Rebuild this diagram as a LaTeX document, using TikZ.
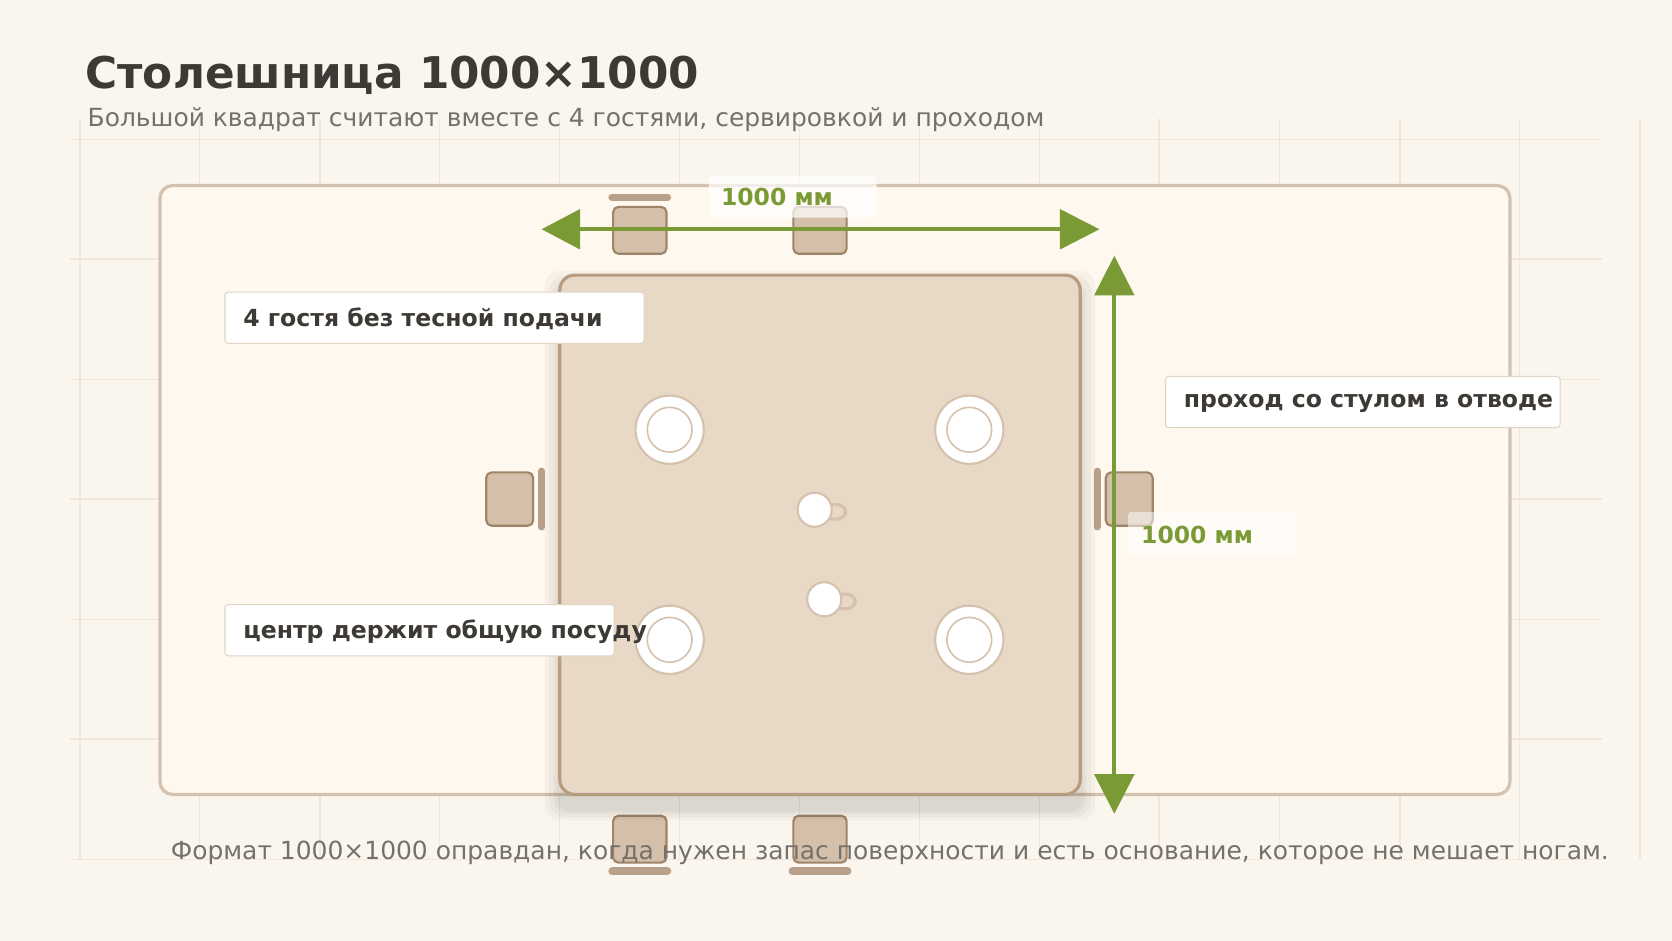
\documentclass[tikz,border=0pt]{standalone}
\usepackage{fontspec}
\setmainfont{DejaVu Sans}
\definecolor{bg}{HTML}{FAF6EE}
\definecolor{grid}{HTML}{EFE7DA}
\definecolor{outerf}{HTML}{FFF8EE}
\definecolor{outerd}{HTML}{D4C2AE}
\definecolor{tablef}{HTML}{E8D9C7}
\definecolor{tabled}{HTML}{B89C80}
\definecolor{chairf}{HTML}{D4C0AA}
\definecolor{chaird}{HTML}{A08468}
\definecolor{bar}{HTML}{B8A08A}
\definecolor{green}{HTML}{7A9A35}
\definecolor{ink}{HTML}{3D3935}
\definecolor{mute}{HTML}{76706A}
\tikzset{
 chair/.style={draw=chaird,fill=chairf,line width=2pt,rounded corners=5pt,minimum width=50pt,minimum height=44pt,inner sep=0pt},
 bar/.style={draw=bar,line width=7pt,line cap=round},
 plate/.style={circle,draw=outerd,fill=white,line width=2pt,minimum size=64pt,inner sep=0pt},
 inner/.style={circle,draw=outerd,line width=1.5pt,minimum size=42pt,inner sep=0pt},
 cup/.style={circle,draw=outerd,fill=white,line width=2pt,minimum size=32pt,inner sep=0pt},
 lbl/.style={draw=outerd!70,fill=white,line width=1pt,rounded corners=3pt,anchor=north west,inner sep=0pt},
 lbltxt/.style={anchor=west,font=\fontsize{22.1}{25}\selectfont\bfseries,text=ink,inner sep=0pt},
 dim/.style={font=\fontsize{22}{25}\selectfont\bfseries,text=green,inner sep=0pt},
 arr/.style={draw=green,line width=4pt},
 head/.style={fill=green}
}
\begin{document}
\begin{tikzpicture}[x=1pt,y=-1pt]
\fill[bg] (0,0) rectangle (1568,882);
\useasboundingbox (0,0) rectangle (1568,882);
\foreach \x in {75,187,300,412,525,637,750,862,975,1087,1200,1313,1425,1538}
  \draw[grid,line width=1.2pt] (\x,112) -- (\x,806);
\foreach \y in {131,243,356,468,581,693,806}
  \draw[grid,line width=1.2pt] (66,\y) -- (1502,\y);
\node[anchor=base west,font=\fontsize{41}{48}\selectfont\bfseries,text=ink,inner sep=0pt] (title) at (80,83) {Столешница 1000×1000};
\node[anchor=base west,font=\fontsize{23.4}{27}\selectfont,text=mute,inner sep=0pt] (sub) at (82,119) {Большой квадрат считают вместе с 4 гостями, сервировкой и проходом};
\draw[outerd,fill=outerf,line width=3pt,rounded corners=12pt] (150,174) rectangle (1416,745);
% chairs
\node[chair] (c1) at (600,216) {}; \draw[bar] (574,185) -- (626,185);
\node[chair] (c2) at (769,216) {};
\node[chair] (c3) at (600,787) {}; \draw[bar] (574,817) -- (626,817);
\node[chair] (c4) at (769,787) {}; \draw[bar] (743,817) -- (795,817);
\node[chair,minimum width=44pt,minimum height=50pt] (c5) at (478,468) {}; \draw[bar] (508,442) -- (508,494);
\node[chair,minimum width=44pt,minimum height=50pt] (c6) at (1059,468) {}; \draw[bar] (1029,442) -- (1029,494);
\foreach \s/\o in {14/4,10/5,6/6,3/7}
  \fill[black,opacity=0.03,rounded corners=14pt] (525-\s,258-\s+\o+6) rectangle (1013+\s,745+\s+\o+6);
\draw[tabled,fill=tablef,line width=3pt,rounded corners=14pt] (525,258) rectangle (1013,745);
\foreach \n/\px/\py in {p1/628/403,p2/909/403,p3/628/600,p4/909/600}{
  \node[plate] (\n) at (\px,\py) {}; \node[inner] at (\px,\py) {};}
\draw[outerd,line width=3pt] (783,480) ellipse (10pt and 7pt);
\node[cup] (cup1) at (764,478) {};
\draw[outerd,line width=3pt] (792,564) ellipse (10pt and 7pt);
\node[cup] (cup2) at (773,562) {};
% horizontal dim
\coordinate (hl) at (508,215); \coordinate (hr) at (1031,215);
\draw[arr] (540,215) -- (998,215);
\fill[head] (hl) -- (544,196) -- (544,234) -- cycle;
\fill[head] (hr) -- (994,196) -- (994,234) -- cycle;
\fill[white,opacity=.7,rounded corners=3pt] (665,165) rectangle (822,204);
\node[dim,anchor=base west] (d1) at (676,193) {1000 мм};
% vertical dim
\coordinate (vt) at (1045,240); \coordinate (vb) at (1045,763);
\draw[arr] (1045,272) -- (1045,731);
\fill[head] (vt) -- (1026,277) -- (1064,277) -- cycle;
\fill[head] (vb) -- (1026,726) -- (1064,726) -- cycle;
\fill[white,opacity=.5,rounded corners=3pt] (1058,480) rectangle (1216,520);
\node[dim,anchor=base west] (d2) at (1070,510) {1000 мм};
% labels
\draw[lbl] (211,274) rectangle (604,322); \node[lbltxt] (l1) at (228,299) {4 гостя без тесной подачи};
\draw[lbl] (1093,353) rectangle (1463,401); \node[lbltxt] (l2) at (1110,378) {проход со стулом в отводе};
\draw[lbl] (211,567) rectangle (576,615); \node[lbltxt] (l3) at (228,592) {центр держит общую посуду};
\node[anchor=base west,font=\fontsize{23.4}{27}\selectfont,text=mute,inner sep=0pt] (foot) at (160,806) {Формат 1000×1000 оправдан, когда нужен запас поверхности и есть основание, которое не мешает ногам.};
\end{tikzpicture}
\end{document}
